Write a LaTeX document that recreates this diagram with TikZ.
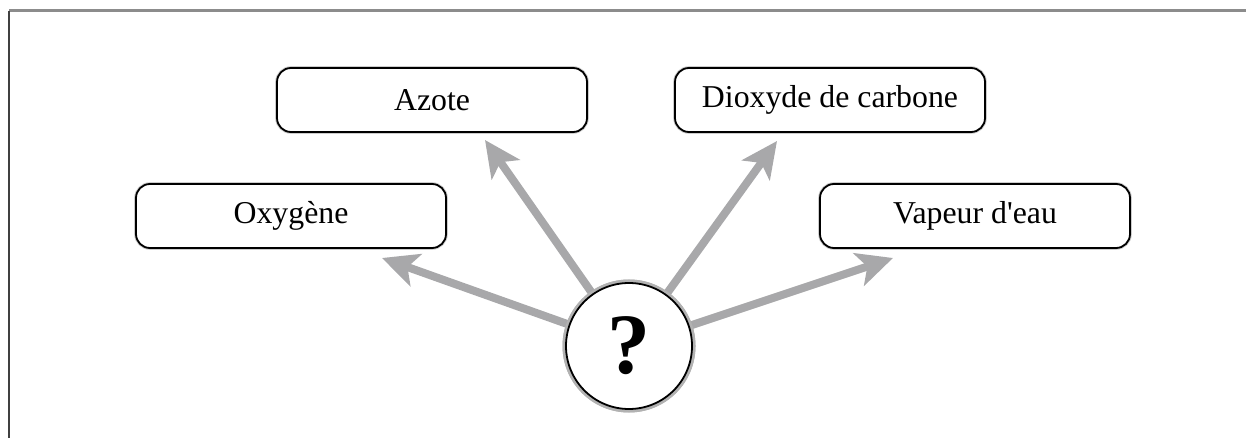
\documentclass[tikz,border=0pt]{standalone}
\usepackage{fontspec}
\setmainfont{Liberation Serif}[Ligatures=TeXOff]
\usetikzlibrary{arrows.meta}
\definecolor{arrowgray}{RGB}{168,168,170}
\definecolor{framegray}{RGB}{140,140,140}
\tikzset{
  gasbox/.style={draw=black, line width=1.8pt, rounded corners=14pt, fill=white,
    minimum width=310pt, minimum height=64pt, inner sep=0pt,
    font=\fontsize{31.8}{36}\selectfont,
    preaction={draw=black!20, line width=3.6pt}},
  gasarrow/.style={draw=arrowgray, line width=8pt,
    -{Stealth[length=36pt, width=34pt, inset=9pt]}},
  qcircle/.style={circle, draw=black, line width=1.8pt, fill=white,
    minimum size=126pt, inner sep=0pt, outer sep=2.5pt,
    preaction={draw=black!30, line width=7pt},
    font=\fontsize{86}{90}\selectfont\bfseries}
}
\begin{document}
\begin{tikzpicture}[x=1pt,y=-1pt]
\useasboundingbox (0,0) rectangle (1246,438);
% frame
\coordinate (ftl) at (9,11);
\coordinate (ftr) at (1246,11);
\coordinate (fbl) at (9,438);
\draw[framegray, line width=3pt] (ftl) -- (ftr);
\draw[black!75, line width=2pt] (fbl) -- (ftl);
% boxes
\node[gasbox] (azote) at (432,100) {Azote};
\node[gasbox] (co2) at (830,100) {Dioxyde de carbone};
\node[gasbox] (oxy) at (291,216) {Oxyg\`ene};
\node[gasbox] (vap) at (975,216) {Vapeur d'eau};
% circle
\node[qcircle] (q) at (629,346) {};
% arrow tips
\coordinate (tO) at (382,258);
\coordinate (tA) at (485,140);
\coordinate (tC) at (777,141);
\coordinate (tV) at (893,258);
\draw[gasarrow] (q) -- (tO);
\draw[gasarrow] (q) -- (tA);
\draw[gasarrow] (q) -- (tC);
\draw[gasarrow] (q) -- (tV);
\node[qcircle] (q2) at (629,346) {?};
\end{tikzpicture}
\end{document}
